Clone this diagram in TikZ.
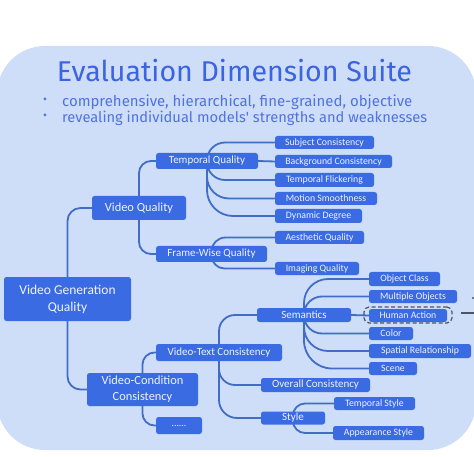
\documentclass[tikz,border=0pt]{standalone}
\usepackage{fontspec}
\setmainfont{Carlito}
\newfontfamily\titlefont{Fira Sans}
\usetikzlibrary{positioning}
\definecolor{blobcol}{HTML}{CEDEF8}
\definecolor{nodecol}{HTML}{3A6BE3}
\definecolor{linecol}{HTML}{416DC4}
\definecolor{titlecol}{HTML}{3C63E0}
\definecolor{txtcol}{HTML}{EEF3FF}
\definecolor{dashcol}{HTML}{4A5566}
\pgfdeclarelayer{blob}
\pgfdeclarelayer{links}
\pgfsetlayers{blob,links,main}
\tikzset{
 box/.style={rectangle, rounded corners=2.5pt, fill=nodecol, text=txtcol, inner sep=0pt, align=center},
 leaf/.style={box, font=\fontsize{9.8}{11}\selectfont},
 mid/.style={box, font=\fontsize{11}{12}\selectfont},
 big/.style={box, font=\fontsize{12.4}{16}\selectfont},
 conn/.style={draw=linecol, line width=1.8pt, rounded corners=#1},
 conn/.default=12pt,
}
\begin{document}
\begin{tikzpicture}[x=1pt,y=-1pt]
\useasboundingbox (0,0) rectangle (474,457);
\begin{pgfonlayer}{blob}
\fill[blobcol, rounded corners=48pt] (-3,46) rectangle (476,450);
\draw[white, line width=0.8pt, rounded corners=50pt] (-4,44.5) rectangle (477,451.5);
\end{pgfonlayer}
% title
\node[text=titlecol, font=\titlefont] (title) at (234.5,71) {\resizebox{355pt}{!}{Evaluation Dimension Suite}};
\node[text=titlecol!90!white, font=\titlefont, anchor=west, inner sep=0pt] (b1) at (62,102) {\resizebox{350pt}{!}{comprehensive, hierarchical, fine-grained, objective}};
\node[text=titlecol!90!white, font=\titlefont, anchor=west, inner sep=0pt] (b2) at (62,118) {\resizebox{365pt}{!}{revealing individual models' strengths and weaknesses}};
\node[text=titlecol!90!white, font=\titlefont\fontsize{12}{14}\selectfont] (d1) at (45,101) {•};
\node[text=titlecol!90!white, font=\titlefont\fontsize{12}{14}\selectfont] (d2) at (45,117) {•};

% main nodes
\node[box, font=\fontsize{13.5}{17}\selectfont, minimum width=127pt, minimum height=44pt] (root) at (67.5,299) {Video Generation\\Quality};
\node[big, minimum width=94pt, minimum height=24pt] (vq) at (139,208) {Video Quality};
\node[big, minimum width=111pt, minimum height=33pt] (vcc) at (142.5,389.5) {Video-Condition\\Consistency};
\node[mid, minimum width=102pt, minimum height=16pt] (tq) at (207,161) {Temporal Quality};
\node[mid, minimum width=111pt, minimum height=16pt] (fwq) at (211.5,254) {Frame-Wise Quality};
\node[mid, minimum width=126pt, minimum height=17pt] (vtc) at (219,352.5) {Video-Text Consistency};
\node[leaf, minimum width=46pt, minimum height=17pt] (dots) at (179,425.5) {......};
\node[mid, minimum width=94pt, minimum height=14pt] (sem) at (304,315) {Semantics};
\node[mid, minimum width=109pt, minimum height=14pt] (ovc) at (315.5,385) {Overall Consistency};
\node[mid, minimum width=64pt, minimum height=13pt] (sty) at (293,418) {Style};
\node[leaf, minimum width=81pt, minimum height=13pt] (tsty) at (374.5,403.5) {Temporal Style};
\node[leaf, minimum width=91pt, minimum height=14pt] (asty) at (378.5,433) {Appearance Style};
% temporal leaves
\node[leaf, minimum width=99pt, minimum height=13pt] (sc) at (324.5,142.5) {Subject Consistency};
\node[leaf, minimum width=117pt, minimum height=13pt] (bc) at (333.5,161.5) {Background Consistency};
\node[leaf, minimum width=99pt, minimum height=14pt] (tf) at (324.5,180) {Temporal Flickering};
\node[leaf, minimum width=102pt, minimum height=13pt] (ms) at (326,198.5) {Motion Smoothness};
\node[leaf, minimum width=87pt, minimum height=14pt] (dd) at (318.5,216) {Dynamic Degree};
\node[leaf, minimum width=89pt, minimum height=13pt] (aq) at (319.5,237.5) {Aesthetic Quality};
\node[leaf, minimum width=84pt, minimum height=13pt] (iq) at (317,268.5) {Imaging Quality};
% semantics leaves
\node[leaf, minimum width=71pt, minimum height=14pt] (oc) at (404.5,279) {Object Class};
\node[leaf, minimum width=88pt, minimum height=13pt] (mo) at (413,296.5) {Multiple Objects};
\node[leaf, minimum width=78pt, minimum height=13pt] (ha) at (408,315.5) {Human Action};
\node[leaf, minimum width=44pt, minimum height=13pt] (col) at (391,333.5) {Color};
\node[leaf, minimum width=102pt, minimum height=14pt] (sr) at (420,351) {Spatial Relationship};
\node[leaf, minimum width=48pt, minimum height=13pt] (scn) at (393,368.5) {Scene};

% dashed frame around Human Action
\node[draw=dashcol, dashed, dash pattern=on 4pt off 2.5pt, line width=1.2pt, rounded corners=5pt, minimum width=88pt, minimum height=16pt, inner sep=0pt] (haf) at (408,315) {};
\coordinate (m1) at (461,313);
\coordinate (m2) at (476,313);
\draw[dashcol, line width=2.4pt] (m1) -- (m2);
\coordinate (m3) at (473,298);
\fill[dashcol] (m3) circle (1.2pt);

% connectors
\begin{pgfonlayer}{links}
\draw[conn=13pt] (root.center) |- (vq.west);
\draw[conn=13pt] (root.center) |- (vcc.west);
\draw[conn=12pt] (vq.center) |- (tq.west);
\draw[conn=12pt] (vq.center) |- (fwq.west);
\draw[conn=18pt] (tq.center) |- (sc.west);
\draw[conn] (tq.east) -- (bc.west);
\draw[conn=18pt] (tq.center) |- (tf.west);
\draw[conn=22pt] (tq.center) |- (ms.west);
\draw[conn=26pt] (tq.center) |- (dd.west);
\draw[conn=14pt] (fwq.center) |- (aq.west);
\draw[conn=13pt] (fwq.center) |- (iq.west);
\draw[conn=12pt] (vcc.center) |- (vtc.west);
\draw[conn=12pt] (vcc.center) |- (dots.west);
\draw[conn=16pt] (vtc.center) |- (sem.west);
\draw[conn=16pt] (vtc.center) |- (ovc.west);
\draw[conn=18pt] (vtc.center) |- (sty.west);
\draw[conn=24pt] (sem.center) |- (oc.west);
\draw[conn=18pt] (sem.center) |- (mo.west);
\draw[conn] (sem.east) -- (ha.west);
\draw[conn=18pt] (sem.center) |- (col.west);
\draw[conn=24pt] (sem.center) |- (sr.west);
\draw[conn=28pt] (sem.center) |- (scn.west);
\draw[conn=12pt] (sty.center) |- (tsty.west);
\draw[conn=12pt] (sty.center) |- (asty.west);
\end{pgfonlayer}
\end{tikzpicture}
\end{document}
